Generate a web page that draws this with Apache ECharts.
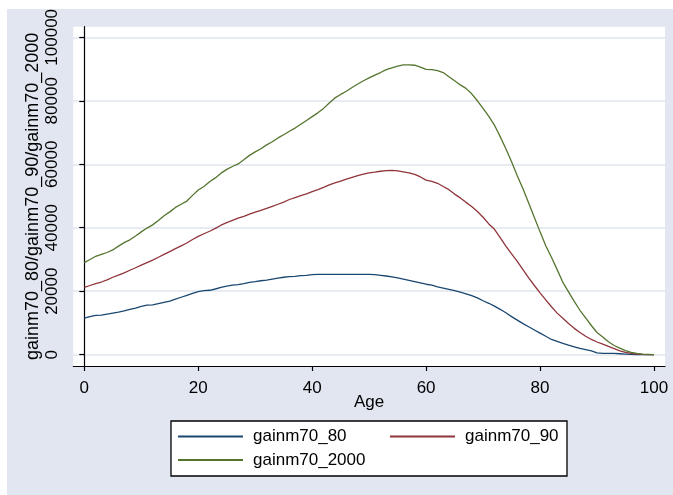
<!DOCTYPE html>
<html>
<head>
<meta charset="utf-8">
<script src="https://cdn.jsdelivr.net/npm/echarts@6/dist/echarts.min.js"></script>
<style>
html,body{margin:0;padding:0;background:#ffffff;}
#bg{position:absolute;left:7px;top:9px;width:666px;height:486px;background:#e2e6f0;}
#chart{position:absolute;left:0;top:0;width:673px;height:495px;}
</style>
</head>
<body>
<div id="bg"></div>
<div id="chart"></div>
<script>
const ages = [];
for (let a = 0; a <= 100; a++) ages.push(a);

const gainm70_80 = [
11500,12000,12400,12500,12800,13100,13400,13800,14300,14700,
15200,15600,15700,16100,16500,16900,17500,18100,18700,19300,
19900,20200,20300,20700,21200,21600,21900,22100,22400,22800,
23000,23300,23500,23800,24100,24400,24600,24700,24900,25000,
25200,25300,25300,25300,25300,25300,25300,25300,25300,25300,
25300,25200,25000,24800,24500,24200,23800,23400,23000,22600,
22200,21900,21400,21000,20600,20200,19700,19200,18600,17900,
17000,16200,15300,14300,13200,12000,10900,9800,8800,7800,
6800,5800,4800,4200,3600,3000,2500,2000,1600,1200,
600,400,400,400,300,200,100,50,20,10,
0];

const gainm70_90 = [
21200,21800,22400,22900,23600,24400,25100,25800,26600,27400,
28200,29000,29800,30700,31600,32500,33400,34300,35200,36300,
37300,38100,38900,39800,40800,41600,42300,43000,43600,44300,
44900,45500,46100,46700,47400,48100,48900,49500,50100,50700,
51400,52000,52700,53500,54100,54700,55300,55900,56400,56900,
57300,57500,57800,58000,58100,57900,57600,57300,56800,56000,
55000,54600,54000,53000,52000,50600,49400,48000,46700,45100,
43300,41200,39500,36900,34200,31800,29400,26800,24200,21800,
19500,17300,15100,13100,11500,9800,8300,7000,5800,4800,
4000,3300,2600,1900,1200,700,400,200,100,50,
0];

const gainm70_2000 = [
29000,30000,31000,31600,32200,33000,34200,35300,36200,37400,
38700,39900,40900,42300,43800,45000,46400,47400,48400,50200,
51900,53000,54500,55700,57200,58400,59300,60100,61400,62800,
63900,64900,66100,67100,68300,69300,70400,71400,72600,73800,
75000,76200,77600,79300,80900,82000,83000,84200,85300,86300,
87200,88100,88900,89800,90400,90900,91300,91300,91200,90600,
89900,89800,89500,88900,87600,86300,85000,83900,82200,80000,
77600,75100,72300,68700,64900,60800,56400,52300,47800,43200,
38700,34300,30700,26800,22800,19800,16800,14000,11600,9200,
7000,5600,4100,2900,2100,1300,700,400,200,100,
0];

const xTicks = [0, 20, 40, 60, 80, 100];
const yTicks = [0, 20000, 40000, 60000, 80000, 100000];
const seriesNames = ['gainm70_80', 'gainm70_90', 'gainm70_2000'];
const colors = ['#1a476f', '#90353b', '#55752f'];
const allValues = [gainm70_80, gainm70_90, gainm70_2000];

const FONT = 'Liberation Sans, Arial, sans-serif';

const chart = echarts.init(document.getElementById('chart'), null, {renderer: 'canvas'});

const series = seriesNames.map((name, i) => ({
  name: name,
  type: 'line',
  data: ages.map((a, k) => [a, allValues[i][k]]),
  symbol: 'none',
  showSymbol: false,
  lineStyle: {color: colors[i], width: 1.3},
  itemStyle: {color: colors[i]},
  animation: false
}));

const legendCommon = {
  orient: 'horizontal',
  padding: 0,
  icon: 'rect',
  itemWidth: 65,
  itemHeight: 2,
  selectedMode: false,
  textStyle: {fontFamily: FONT, fontSize: 17, color: '#000', padding: [0, 0, 0, 5]}
};

chart.setOption({
  backgroundColor: 'transparent',
  animation: false,
  grid: {
    left: 73.3, top: 26.7, right: 8, bottom: 129,
    show: true, backgroundColor: '#ffffff', borderWidth: 0,
    containLabel: false
  },
  xAxis: {
    type: 'value',
    min: -1.93, max: 101.93,
    name: 'Age',
    nameLocation: 'middle',
    nameGap: 28,
    nameMoveOverlap: false,
    nameTextStyle: {fontFamily: FONT, fontSize: 17, color: '#000'},
    axisLine: {show: true, onZero: false, lineStyle: {color: '#000', width: 1.2}},
    axisTick: {show: true, length: 5, customValues: xTicks, lineStyle: {color: '#000', width: 1.2}},
    axisLabel: {customValues: xTicks, margin: 14, fontFamily: FONT, fontSize: 17, color: '#000'},
    splitLine: {show: false}
  },
  yAxis: {
    type: 'value',
    min: -3560, max: 103340,
    name: 'gainm70_80/gainm70_90/gainm70_2000',
    nameLocation: 'middle',
    nameRotate: 90,
    nameGap: 31,
    nameMoveOverlap: false,
    nameTextStyle: {fontFamily: FONT, fontSize: 18, color: '#000'},
    axisLine: {show: true, lineStyle: {color: '#000', width: 1.2}},
    axisTick: {show: true, length: 5, customValues: yTicks, lineStyle: {color: '#000', width: 1.2}},
    axisLabel: {customValues: yTicks, rotate: 90, margin: 12, fontFamily: FONT, fontSize: 17, color: '#000',
      formatter: function (v) { return String(v); }},
    splitLine: {show: true, lineStyle: {color: '#dfe4ee', width: 1.5}}
  },
  legend: [
    Object.assign({}, legendCommon, {data: ['gainm70_80'], left: 178, top: 428}),
    Object.assign({}, legendCommon, {data: ['gainm70_90'], left: 390, top: 428}),
    Object.assign({}, legendCommon, {data: ['gainm70_2000'], left: 178, top: 451.5})
  ],
  graphic: [{
    type: 'rect',
    z: -1,
    shape: {x: 171, y: 421, width: 396, height: 55},
    style: {fill: '#ffffff', stroke: '#000000', lineWidth: 1.3}
  }],
  series: series
});
</script>
</body>
</html>
